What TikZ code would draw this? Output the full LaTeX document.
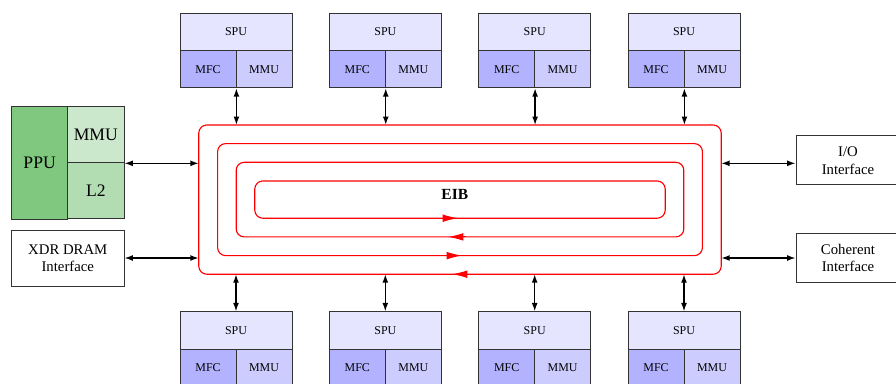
\documentclass[tikz,border=0pt]{standalone}
\usepackage{fontspec}
\setmainfont{Liberation Serif}
\usetikzlibrary{arrows.meta,positioning,calc}
\definecolor{ppugreen}{RGB}{128,200,128}
\definecolor{ppummu}{RGB}{204,232,204}
\definecolor{ppulii}{RGB}{178,220,178}

\begin{document}
\begin{tikzpicture}[
    box/.style={draw=black!80, line width=0.6pt, inner sep=0pt, align=center},
    spu/.style={box, fill=blue!10, minimum width=2.8cm, minimum height=0.93cm, font=\fontsize{8.5}{10}\selectfont},
    mfc/.style={box, fill=blue!30, minimum width=1.4cm, minimum height=0.93cm, font=\fontsize{8.5}{10}\selectfont},
    mmu/.style={box, fill=blue!20, minimum width=1.4cm, minimum height=0.93cm, font=\fontsize{8.5}{10}\selectfont},
    ppubox/.style={box, font=\fontsize{12.5}{14}\selectfont},
    iface/.style={box, fill=white, font=\fontsize{10.5}{12.5}\selectfont},
    ring/.style={draw=red, line width=0.8pt, rounded corners=0.2cm, inner sep=0pt, outer sep=0pt},
    bus/.style={{Latex[length=6pt,width=4.2pt]}-{Latex[length=6pt,width=4.2pt]}, line width=1pt},
    flow/.style={-{Latex[length=11pt,width=5.5pt]}, red, line width=0.8pt}
]
\useasboundingbox (0,0) rectangle (22.4,-9.575);

% element interconnect bus
\node[ring, minimum width=13.06cm, minimum height=3.73cm] (ring1) at (11.5,-4.99) {};
\node[ring, minimum width=12.12cm, minimum height=2.80cm] (ring2) at (11.5,-4.99) {};
\node[ring, minimum width=11.19cm, minimum height=1.865cm] (ring3) at (11.5,-4.99) {};
\node[ring, minimum width=10.26cm, minimum height=0.93cm] (ring4) at (11.5,-4.99) {};
\node[font=\fontsize{11}{13}\selectfont\bfseries] (eib) at (11.37,-4.87) {EIB};

\draw[flow] ([xshift=-0.45cm]ring4.south) -- ([xshift=-0.05cm]ring4.south);
\draw[flow] ([xshift=0.15cm]ring3.south) -- ([xshift=-0.3cm]ring3.south);
\draw[flow] ([xshift=-0.35cm]ring2.south) -- ([xshift=0.05cm]ring2.south);
\draw[flow] ([xshift=0.2cm]ring1.south) -- ([xshift=-0.2cm]ring1.south);

% PPU and memory
\node[ppubox, fill=ppugreen, minimum width=1.4cm, minimum height=2.81cm] (ppu) at (0.99,-4.07) {PPU};
\node[ppubox, fill=ppummu, minimum width=1.41cm, minimum height=1.405cm] (pmmu) at (2.395,-3.37) {MMU};
\node[ppubox, fill=ppulii, minimum width=1.41cm, minimum height=1.405cm] (l2) at (2.395,-4.77) {L2};
\node[iface, minimum width=2.81cm, minimum height=1.4cm] (xdr) at (1.695,-6.45) {XDR DRAM\\Interface};

% interfaces
\node[iface, minimum width=2.6cm, minimum height=1.225cm] (io) at (21.2,-4.01) {I/O\\Interface};
\node[iface, minimum width=2.6cm, minimum height=1.24cm] (coh) at (21.2,-6.45) {Coherent\\Interface};

\draw[bus] (pmmu.south east) -- (pmmu.south east -| ring1.west);
\draw[bus] (xdr.east) -- (xdr.east -| ring1.west);
\draw[bus] (ring1.east |- pmmu.south) -- (io.west |- pmmu.south);
\draw[bus] (ring1.east |- xdr.east) -- (coh.west |- xdr.east);

% synergistic units
\foreach \i/\x in {1/5.9, 2/9.633, 3/13.367, 4/17.1} {
  \node[spu] (spuT\i) at (\x,-0.80) {SPU};
  \node[mfc] (mfcT\i) at (\x-0.7,-1.73) {MFC};
  \node[mmu] (mmuT\i) at (\x+0.7,-1.73) {MMU};
  \node[spu] (spuB\i) at (\x,-8.26) {SPU};
  \node[mfc] (mfcB\i) at (\x-0.7,-9.19) {MFC};
  \node[mmu] (mmuB\i) at (\x+0.7,-9.19) {MMU};
  \draw[bus] (mfcT\i.south east) -- (mfcT\i.south east |- ring1.north);
  \draw[bus] (spuB\i.north) -- (spuB\i.north |- ring1.south);
}
\end{tikzpicture}
\end{document}
